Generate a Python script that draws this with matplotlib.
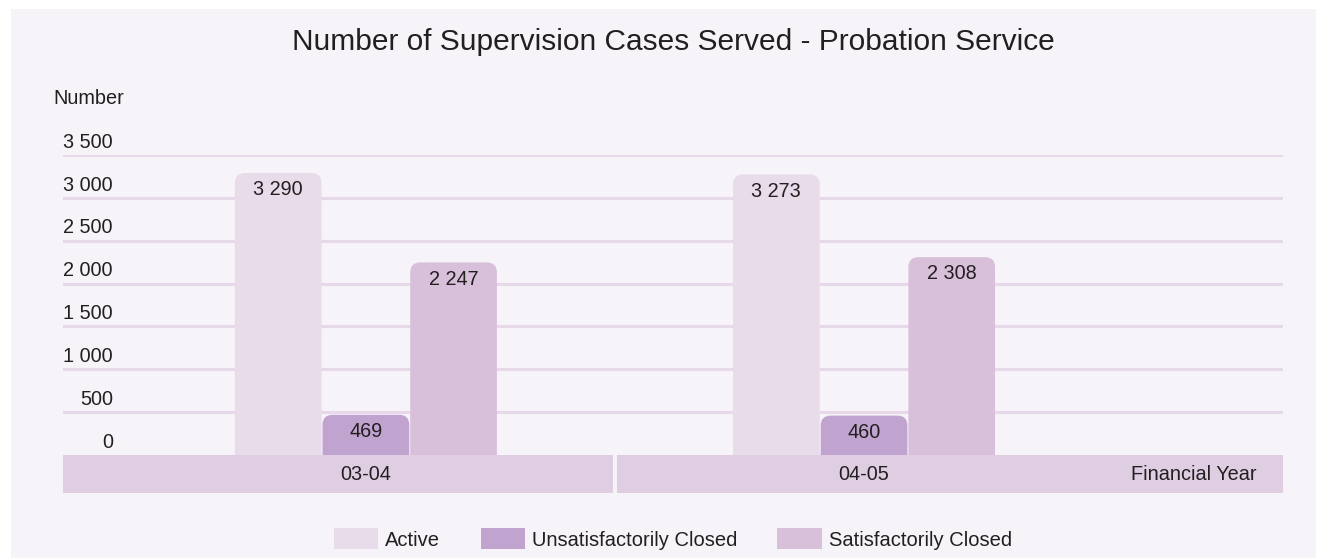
import numpy as np
import matplotlib
matplotlib.use("Agg")
import matplotlib.pyplot as plt
from matplotlib.patches import FancyBboxPatch, Rectangle, Patch

plt.rcParams['font.family'] = ['Liberation Sans', 'DejaVu Sans']

years = ["03-04", "04-05"]
series = ["Active", "Unsatisfactorily Closed", "Satisfactorily Closed"]
active = [3290, 3273]
unsat = [469, 460]
sat = [2247, 2308]
values = [active, unsat, sat]
yticks = [0, 500, 1000, 1500, 2000, 2500, 3000, 3500]

colors = ["#E8DBEA", "#C0A3CF", "#D8BFDA"]
band_color = "#DFCDE2"
grid_color = "#E7D8EA"
bg = "#F7F4F9"
txt = "#231F20"
fs = 14.3

def fmt(v):
    return "{:,}".format(v).replace(",", " ")

fig = plt.figure(figsize=(13.26, 5.58), dpi=100, facecolor="white")
fig.patches.append(Rectangle((11 / 1326, 0), 1305 / 1326, 1 - 9 / 558,
                             transform=fig.transFigure, facecolor=bg,
                             edgecolor="none", zorder=-10))

ax = fig.add_axes([63 / 1326, 65 / 558, 1220 / 1326, 338 / 558])
ax.set_facecolor("none")
ax.set_xlim(-0.608, 1.841)
ax.set_ylim(-443, 3500)
ax.axis("off")

for t in yticks[1:]:
    ax.axhline(t, color=grid_color, lw=2.2, zorder=1)
for t in yticks:
    ax.text(-0.508, t + 150, fmt(t), ha="right", va="center",
            fontsize=fs, color=txt, clip_on=False)

w = 0.176
x = np.arange(len(years))
rx = 10 / 498
ry = 10 / 0.0857
for i, vals in enumerate(values):
    for xi, v in zip(x + (i - 1) * w, vals):
        ax.add_patch(FancyBboxPatch((xi - w / 2 + 0.001, -200), w - 0.002, v + 200,
                                    boxstyle="round,pad=0,rounding_size=%f" % rx,
                                    mutation_aspect=ry / rx,
                                    facecolor=colors[i], edgecolor="none", zorder=2))
        ax.text(xi, v - 195, fmt(v), ha="center", va="center",
                fontsize=fs, color=txt, zorder=4)

# category band
ax.add_patch(Rectangle((-0.608, -443), 0.496 + 0.608, 443,
                       facecolor=band_color, edgecolor="none", zorder=3))
ax.add_patch(Rectangle((0.504, -443), 1.841 - 0.504, 443,
                       facecolor=band_color, edgecolor="none", zorder=3))
for xi, lab in zip(x, years):
    ax.text(xi, -222, lab, ha="center", va="center", fontsize=fs,
            color=txt, zorder=4)
ax.text(1.787, -222, "Financial Year", ha="right", va="center",
        fontsize=fs, color=txt, zorder=4)

fig.text(673 / 1326, 1 - 42 / 558,
         "Number of Supervision Cases Served - Probation Service",
         ha="center", va="center", fontsize=21.5, color=txt)
fig.text(53 / 1326, 1 - 98 / 558, "Number", ha="left", va="center",
         fontsize=fs, color=txt)

handles = [Patch(facecolor=c, edgecolor="none") for c in colors]
fig.legend(handles, series, loc="center", bbox_to_anchor=(673 / 1326, 1 - 539 / 558),
           ncol=3, frameon=False, fontsize=14.5, handlelength=2.19,
           handleheight=1.19, handletextpad=0.35, columnspacing=2.0,
           labelcolor=txt)

fig.savefig("out.png", dpi=100, facecolor="white")
